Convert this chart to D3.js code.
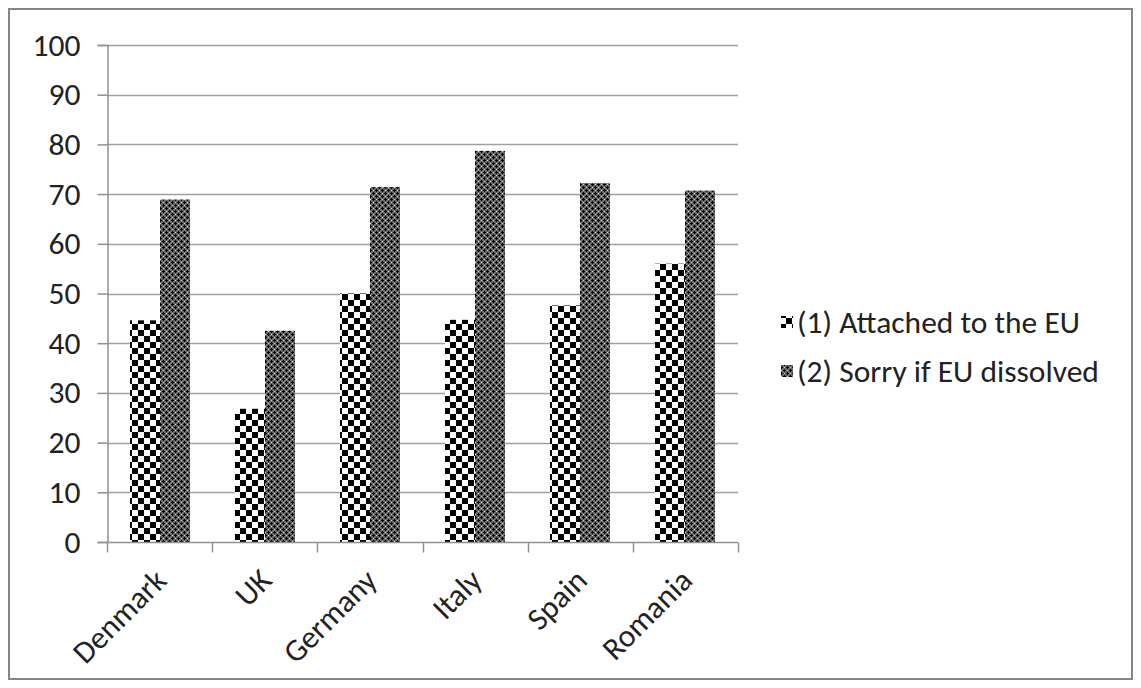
<!DOCTYPE html>
<html>
<head>
<meta charset="utf-8">
<script src="https://cdn.jsdelivr.net/npm/d3@7/dist/d3.min.js"></script>
<style>
  html, body { margin: 0; padding: 0; background: #fff; }
  svg { display: block; }
  text { font-family: Carlito, Calibri, Lato, "Liberation Sans", sans-serif; fill: #222; }
</style>
</head>
<body>
<svg id="chart" width="1141" height="688"></svg>
<script>
const categories = ["Denmark", "UK", "Germany", "Italy", "Spain", "Romania"];
const seriesNames = ["(1) Attached to the EU", "(2) Sorry if EU dissolved"];
const attached = [44.6, 26.8, 50.0, 44.7, 47.6, 56.0];
const sorry = [68.9, 42.5, 71.4, 78.7, 72.2, 70.7];
const yTicks = [0, 10, 20, 30, 40, 50, 60, 70, 80, 90, 100];

const FS = 31.5;
const svg = d3.select("#chart");
const defs = svg.append("defs");

// Pattern 1: large checkerboard
const p1 = defs.append("pattern").attr("id", "pat1").attr("patternUnits", "userSpaceOnUse")
  .attr("width", 12).attr("height", 12);
p1.append("rect").attr("width", 12).attr("height", 12).attr("fill", "#fff");
p1.append("rect").attr("x", 0).attr("y", 0).attr("width", 6).attr("height", 6).attr("fill", "#000");
p1.append("rect").attr("x", 6).attr("y", 6).attr("width", 6).attr("height", 6).attr("fill", "#000");

// Pattern 2: dark diamond / cross texture
const p2 = defs.append("pattern").attr("id", "pat2").attr("patternUnits", "userSpaceOnUse")
  .attr("width", 6).attr("height", 6);
p2.append("rect").attr("width", 6).attr("height", 6).attr("fill", "#6a6a6a");
[[1.5, 1.5], [4.5, 4.5]].forEach(([cx, cy]) => {
  p2.append("rect").attr("x", cx - 1.5).attr("y", cy - 0.5).attr("width", 3).attr("height", 1).attr("fill", "#000");
  p2.append("rect").attr("x", cx - 0.5).attr("y", cy - 1.5).attr("width", 1).attr("height", 3).attr("fill", "#000");
});
[[4.5, 1.5], [1.5, 4.5]].forEach(([cx, cy]) => {
  p2.append("rect").attr("x", cx - 0.5).attr("y", cy - 0.5).attr("width", 1).attr("height", 1).attr("fill", "#d8d8d8");
});

// Outer frame
svg.append("rect").attr("x", 9).attr("y", 9).attr("width", 1123).attr("height", 670)
  .attr("fill", "none").attr("stroke", "#868686").attr("stroke-width", 2);

const plotLeft = 107, plotRight = 738, plotTop = 45, plotBottom = 542;

const x = d3.scaleBand().domain(categories).range([plotLeft, plotRight]).paddingInner(0).paddingOuter(0);
const y = d3.scaleLinear().domain([0, 100]).range([plotBottom, plotTop]);
const inner = d3.scaleBand().domain([0, 1]).range([0, x.bandwidth()]).paddingOuter(0.75).paddingInner(0);

// Gridlines
svg.append("g").selectAll("line").data(yTicks.filter(d => d > 0)).join("line")
  .attr("x1", plotLeft).attr("x2", plotRight)
  .attr("y1", d => Math.round(y(d)) + 0.5).attr("y2", d => Math.round(y(d)) + 0.5)
  .attr("stroke", "#a0a0a0").attr("stroke-width", 1.5);

// Bars
const series = [attached, sorry];
const pats = ["url(#pat1)", "url(#pat2)"];
series.forEach((vals, si) => {
  svg.append("g").selectAll("rect").data(vals).join("rect")
    .attr("x", (d, i) => Math.round(x(categories[i]) + inner(si)))
    .attr("width", Math.round(inner.bandwidth()))
    .attr("y", d => y(d))
    .attr("height", d => plotBottom - y(d))
    .attr("fill", pats[si]);
});

// Y axis
const yAxis = svg.append("g").attr("transform", `translate(${plotLeft + 0.5},0)`)
  .call(d3.axisLeft(y).tickValues(yTicks).tickSize(10).tickPadding(17).tickFormat(d3.format("d")));
yAxis.select(".domain").attr("stroke", "#909090").attr("stroke-width", 1.5);
yAxis.selectAll(".tick line").attr("stroke", "#909090").attr("stroke-width", 1.5);
yAxis.selectAll(".tick text").attr("font-size", FS).style("fill", "#222")
  .attr("font-family", "Carlito, Calibri, Lato, 'Liberation Sans', sans-serif");

// X axis
const xAxisG = svg.append("g").attr("transform", `translate(0,${plotBottom + 0.5})`);
xAxisG.append("line").attr("x1", plotLeft).attr("x2", plotRight).attr("y1", 0).attr("y2", 0)
  .attr("stroke", "#909090").attr("stroke-width", 1.5);
const boundaries = categories.map(c => x(c)).concat([plotRight]);
xAxisG.selectAll("line.tk").data(boundaries).join("line").attr("class", "tk")
  .attr("x1", d => Math.round(d) + 0.5).attr("x2", d => Math.round(d) + 0.5)
  .attr("y1", 0).attr("y2", 10).attr("stroke", "#909090").attr("stroke-width", 1.5);
xAxisG.selectAll("text").data(categories).join("text")
  .attr("transform", d => `translate(${x(d) + x.bandwidth() / 2 + 1},${32}) rotate(-45)`)
  .attr("text-anchor", "end").attr("dy", "0.35em").attr("font-size", FS)
  .text(d => d);

// Legend
const legend = svg.append("g");
const legY = [322, 371];
seriesNames.forEach((name, i) => {
  legend.append("rect").attr("x", 781).attr("y", legY[i] - 6).attr("width", 12).attr("height", 12)
    .attr("fill", pats[i]);
  legend.append("text").attr("x", 797).attr("y", legY[i]).attr("dy", "0.35em")
    .attr("font-size", FS).text(name);
});
</script>
</body>
</html>
